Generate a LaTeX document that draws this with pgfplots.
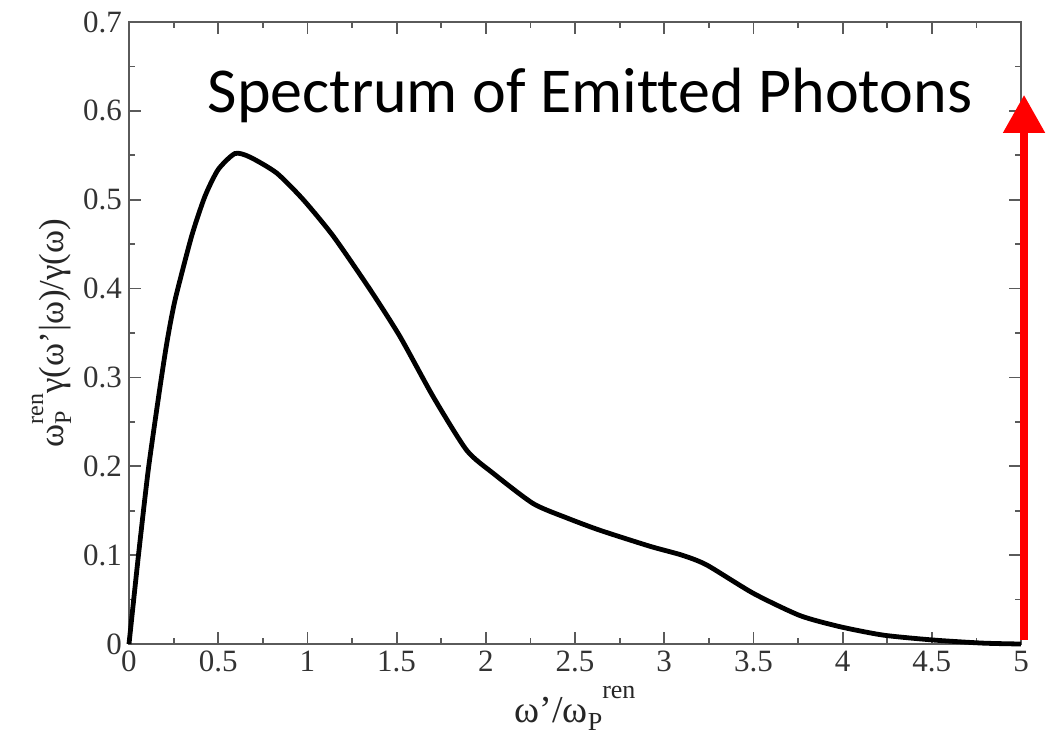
\documentclass[border=0pt]{standalone}
\usepackage{pgfplots}
\pgfplotsset{compat=1.18}
\usepackage{fontspec}
\setmainfont{Liberation Serif}
\newfontfamily\calibri[Ligatures=NoCommon]{Carlito}
\usetikzlibrary{arrows.meta}
\definecolor{axgray}{RGB}{90,90,90}
\begin{document}
\begin{tikzpicture}
\useasboundingbox (-64.5pt,-46pt) rectangle (462pt,322pt);
\begin{axis}[
  scale only axis,
  width=446pt, height=311pt,
  xmin=0, xmax=5, ymin=0, ymax=0.7,
  xtick={0,0.5,...,5},
  ytick={0,0.1,...,0.7},
  minor x tick num=1,
  minor y tick num=1,
  tick align=inside,
  major tick length=6pt,
  minor tick length=3pt,
  axis line style={axgray, line width=0.9pt},
  every tick/.style={axgray, line width=0.9pt},
  tick label style={font=\fontsize{15.5}{17}\selectfont, text=black!80},
  /pgf/number format/assume math mode=true,
  xticklabels={0,0.5,1,1.5,2,2.5,3,3.5,4,4.5,5},
  yticklabels={0,0.1,0.2,0.3,0.4,0.5,0.6,0.7},
  xlabel={ω’/ω\raisebox{-0.45ex}{\fontsize{13}{14}\selectfont P}\raisebox{1.4ex}{\fontsize{13}{14}\selectfont ren}},
  ylabel={ω\rlap{\raisebox{-0.45ex}{\fontsize{12}{13}\selectfont P}}\raisebox{1.3ex}{\fontsize{12}{13}\selectfont ren}γ(ω’|ω)/γ(ω)},
  xlabel style={font=\fontsize{19}{21}\selectfont, text=black!85, yshift=0pt},
  ylabel style={font=\fontsize{17.5}{19}\selectfont, text=black!85, yshift=-1pt},
  clip=false,
]
\addplot[black, line width=2.4pt, smooth, tension=0.4] coordinates {
(0,0) (0.052,0.098) (0.108,0.196) (0.17,0.284) (0.213,0.340) (0.258,0.387)
(0.351,0.459) (0.426,0.504) (0.50,0.534) (0.594,0.552) (0.678,0.548)
(0.828,0.530) (0.977,0.500) (1.145,0.459) (1.351,0.399) (1.519,0.346)
(1.706,0.278) (1.893,0.218) (2.042,0.192) (2.266,0.158) (2.453,0.142)
(2.640,0.128) (2.92,0.110) (3.1,0.100) (3.238,0.089) (3.5,0.057)
(3.761,0.032) (3.985,0.0195) (4.228,0.010) (4.508,0.0045) (4.787,0.001) (5,0)
};
\draw[red, line width=4pt, -{Triangle[width=20pt,length=19pt]}]
  (axis cs:5.017,0.005) -- (axis cs:5.017,0.618);
\node[anchor=base, font=\calibri\fontsize{32}{35}\selectfont] at (axis cs:2.584,0.598) {Spectrum of Emitted Photons};
\end{axis}
\end{tikzpicture}
\end{document}
